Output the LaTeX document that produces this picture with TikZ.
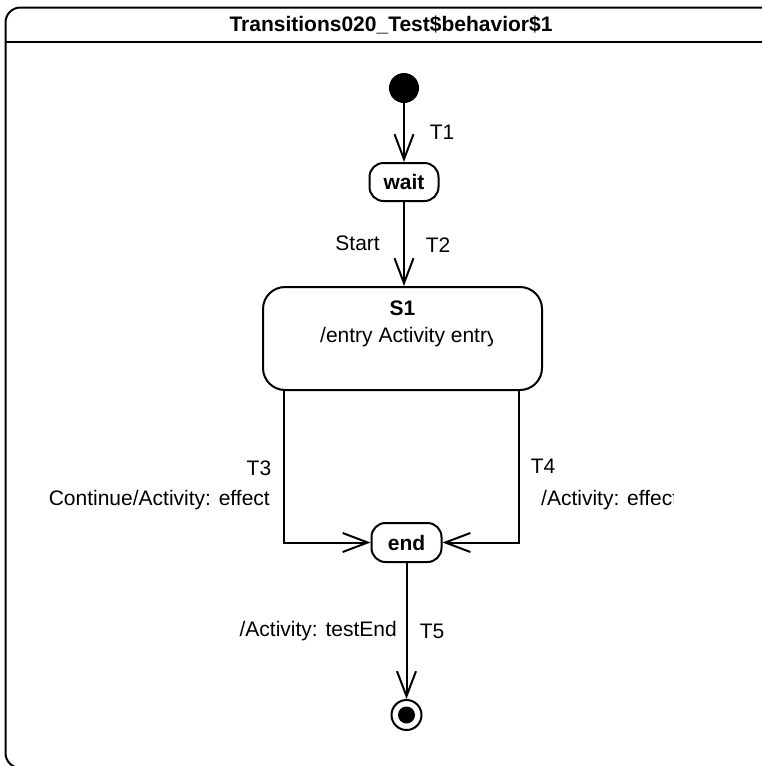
\documentclass[tikz,border=0pt]{standalone}
\usepackage{fontspec}
\setmainfont{Liberation Sans}
\usetikzlibrary{calc}
\usetikzlibrary{arrows.meta}

\begin{document}
\fontsize{21}{25}\selectfont
\begin{tikzpicture}[x=1pt,y=-1pt]
		\tikzset{state/.style={draw,line width=2pt,rounded corners=14pt,inner sep=0pt,font=\bfseries},
			trans/.style={-{Straight Barb[length=25pt,width=19pt]},line width=2pt}}
		\clip (0,0) rectangle (762,766);
		
		%frame
		\draw[line width=2pt,rounded corners=15pt] (5.5,7.5) rectangle (778,768);
		\draw[line width=2pt] (5.5,41.5) -- (778,41.5);
		\node (title) at (391,25) [font=\bfseries] {Transitions020\_Test\$behavior\$1};
		
		\node (init) at (404,88) [circle,fill=black,minimum size=30pt,inner sep=0pt] {};
		\node (wait) at (404,182) [state,minimum width=69pt,minimum height=38pt] {wait};
		\node (s1) at (402.5,338.5) [draw,line width=2pt,rounded corners=22pt,minimum width=279pt,minimum height=103pt] {};
		\node (s1name) at (402.5,308) [font=\bfseries] {S1};
		\begin{scope}
			\clip (263,287) rectangle (492,390);
			\node (entry) at (320,337) [anchor=west,inner sep=0pt] {/entry Activity entry};
		\end{scope}
		\node (end) at (406.5,542.5) [state,minimum width=70pt,minimum height=39pt] {end};
		\node (final) at (406.5,715) [draw,circle,line width=2pt,minimum size=30pt,inner sep=0pt] {};
		\node (finaldot) at (final) [circle,fill=black,minimum size=17pt,inner sep=0pt] {};
		
		%transitions
		\path
		(init) edge [trans] (wait)
		(wait) edge [trans] (wait.south |- s1.north)
		(end) edge [trans] (final);
		\draw[trans] ($ (s1.south west)+(22,0) $) |- (end.west);
		\draw[trans] ($ (s1.south east)+(-24,0) $) |- (end.east);
		
		%labels
		\node (t1) at (442,132) {T1};
		\node (t2) at (438,245) {T2};
		\node (start) at (380,243) [anchor=east,inner sep=0pt] {Start};
		\node (t3) at (259,468) {T3};
		\node (t3eff) at (270,500) [anchor=east,inner sep=0pt] {Continue/Activity: effect};
		\node (t4) at (543,466) {T4};
		\begin{scope}
			\clip (530,480) rectangle (673,520);
			\node (t4eff) at (541,500) [anchor=west,inner sep=0pt] {/Activity: effect};
		\end{scope}
		\node (t5eff) at (397,631) [anchor=east,inner sep=0pt] {/Activity: testEnd};
		\node (t5) at (432,631) {T5};
	\end{tikzpicture}
\end{document}
